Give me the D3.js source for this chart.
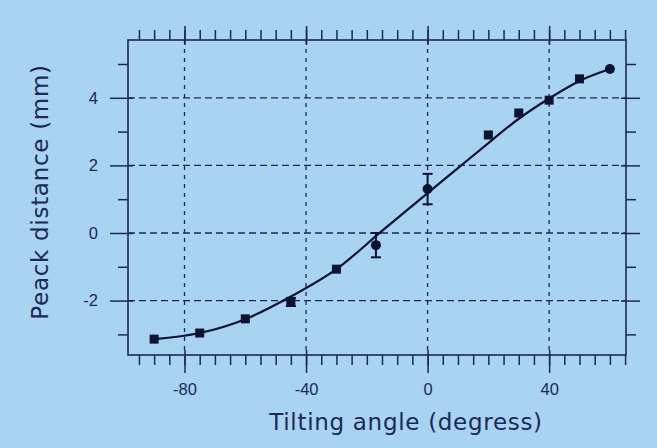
<!DOCTYPE html>
<html>
<head>
<meta charset="utf-8">
<script src="https://cdn.jsdelivr.net/npm/d3@7"></script>
<style>
	html, body { margin: 0; padding: 0; background: #a8d3f1; }
	svg.tilt { display: block; font-family: "DejaVu Sans", "Noto Sans", sans-serif; }
</style>
</head>
<body>
<svg class="tilt"></svg>
<script>
// measured points
var angles  = [-90, -75, -60, -45, -30, -17, 0, 20, 30, 40, 50, 60];
var peaks   = [-3.14, -2.96, -2.54, -2.04, -1.07, -0.36, 1.30, 2.90, 3.55, 3.93, 4.56, 4.85];
var errors  = [0, 0, 0, 0.12, 0, 0.36, 0.45, 0, 0, 0, 0, 0];
var shapes  = ['sq', 'sq', 'sq', 'sq', 'sq', 'dot', 'dot', 'sq', 'sq', 'sq', 'sq', 'dot'];
// fitted curve
var fitAngles = [-90, -75, -60, -45, -30, -15, 0, 10, 20, 30, 40, 50, 60];
var fitPeaks  = [-3.14, -2.96, -2.55, -1.88, -1.07, 0.06, 1.18, 1.92, 2.66, 3.38, 3.98, 4.5, 4.85];
// axes
var xMajor = [-80, -40, 0, 40];
var yMajor = [-2, 0, 2, 4];
var xMinor = d3.range(-95, 66, 5);
var yMinor = [-3, -1, 1, 3, 5];

var chart = {
	initialize: function(){
		var self = this;
		self._render_view();
		return self;
	},
	_render_view: function(){
		var width = 657, height = 448;
		var left = 128, right = 626, top = 40, bottom = 355;
		var ink = '#1d2859';
		var fmt = function(d){ return String(d); }; // plain hyphen like the original

		var svg = d3.select('svg.tilt')
			.attr('width', width)
			.attr('height', height);

		svg.append('rect')
			.attr('width', width).attr('height', height)
			.attr('fill', '#a8d3f1');

		var x = d3.scaleLinear().domain([-98.6, 65.3]).range([left, right]);
		var y = d3.scaleLinear().domain([-3.61, 5.71]).range([bottom, top]);

		// dashed grid
		var grid = svg.append('g').attr('class', 'grid');
		grid.selectAll('.vgrid').data(xMajor).enter()
			.append('line')
			.attr('x1', function(d){ return x(d); })
			.attr('x2', function(d){ return x(d); })
			.attr('y1', top).attr('y2', bottom)
			.attr('stroke', ink).attr('stroke-width', 1.3)
			.attr('stroke-dasharray', '4,5');
		grid.selectAll('.hgrid').data(yMajor).enter()
			.append('line')
			.attr('y1', function(d){ return y(d); })
			.attr('y2', function(d){ return y(d); })
			.attr('x1', left).attr('x2', right)
			.attr('stroke', ink).attr('stroke-width', 1.3)
			.attr('stroke-dasharray', '7,4');

		// axes: ticks outside the frame on all four sides
		var axisStyle = function(g){
			g.select('.domain').remove();
			g.selectAll('line').attr('stroke', ink).attr('stroke-width', 1.5);
			g.selectAll('text').attr('fill', ink).style('font-size', '16.5px');
		};
		svg.append('g')
			.attr('transform', 'translate(0,' + bottom + ')')
			.call(d3.axisBottom(x).tickValues(xMinor).tickSize(10).tickFormat(''))
			.call(axisStyle);
		svg.append('g')
			.attr('transform', 'translate(0,' + (bottom - 5) + ')')
			.call(d3.axisBottom(x).tickValues(xMajor).tickSize(23).tickPadding(10).tickFormat(fmt))
			.call(axisStyle);
		svg.append('g')
			.attr('transform', 'translate(0,' + top + ')')
			.call(d3.axisTop(x).tickValues(xMinor).tickSize(10).tickFormat(''))
			.call(axisStyle);
		svg.append('g')
			.attr('transform', 'translate(0,' + (top + 5) + ')')
			.call(d3.axisTop(x).tickValues(xMajor).tickSize(19).tickFormat(''))
			.call(axisStyle);
		svg.append('g')
			.attr('transform', 'translate(' + left + ',0)')
			.call(d3.axisLeft(y).tickValues(yMinor).tickSize(10).tickFormat(''))
			.call(axisStyle);
		svg.append('g')
			.attr('transform', 'translate(' + (left + 5) + ',0)')
			.call(d3.axisLeft(y).tickValues(yMajor).tickSize(23).tickPadding(12).tickFormat(fmt))
			.call(axisStyle);
		svg.append('g')
			.attr('transform', 'translate(' + right + ',0)')
			.call(d3.axisRight(y).tickValues(yMinor).tickSize(10).tickFormat(''))
			.call(axisStyle);
		svg.append('g')
			.attr('transform', 'translate(' + (right - 5) + ',0)')
			.call(d3.axisRight(y).tickValues(yMajor).tickSize(19).tickFormat(''))
			.call(axisStyle);

		// frame
		svg.append('rect')
			.attr('x', left).attr('y', top)
			.attr('width', right - left).attr('height', bottom - top)
			.attr('fill', 'none').attr('stroke', ink).attr('stroke-width', 1.6);

		// fitted curve
		var line = d3.line()
			.x(function(d){ return x(d[0]); })
			.y(function(d){ return y(d[1]); })
			.curve(d3.curveMonotoneX);
		svg.append('path')
			.datum(d3.zip(fitAngles, fitPeaks))
			.attr('d', line)
			.attr('fill', 'none')
			.attr('stroke', '#0d1330')
			.attr('stroke-width', 2.2);

		var points = angles.map(function(a, i){
			return { a: a, p: peaks[i], e: errors[i], s: shapes[i] };
		});

		// error bars
		var bars = svg.selectAll('.err')
			.data(points.filter(function(d){ return d.e > 0; }))
			.enter().append('g').attr('class', 'err')
			.attr('stroke', '#0d1330').attr('stroke-width', 2);
		bars.append('line')
			.attr('x1', function(d){ return x(d.a); })
			.attr('x2', function(d){ return x(d.a); })
			.attr('y1', function(d){ return y(d.p + d.e); })
			.attr('y2', function(d){ return y(d.p - d.e); });
		[1, -1].forEach(function(sign){
			bars.append('line')
				.attr('x1', function(d){ return x(d.a) - 5; })
				.attr('x2', function(d){ return x(d.a) + 5; })
				.attr('y1', function(d){ return y(d.p + sign * d.e); })
				.attr('y2', function(d){ return y(d.p + sign * d.e); });
		});

		// markers
		svg.selectAll('.sq')
			.data(points.filter(function(d){ return d.s == 'sq'; }))
			.enter().append('rect')
			.attr('class', 'sq')
			.attr('x', function(d){ return x(d.a) - 4.5; })
			.attr('y', function(d){ return y(d.p) - 4.5; })
			.attr('width', 9).attr('height', 9)
			.attr('fill', '#0d1330');
		svg.selectAll('.dot')
			.data(points.filter(function(d){ return d.s == 'dot'; }))
			.enter().append('circle')
			.attr('class', 'dot')
			.attr('cx', function(d){ return x(d.a); })
			.attr('cy', function(d){ return y(d.p); })
			.attr('r', 5)
			.attr('fill', '#0d1330');

		// axis titles
		svg.append('text')
			.attr('x', 406).attr('y', 430)
			.attr('text-anchor', 'middle')
			.attr('fill', ink)
			.style('font-size', '23px')
			.style('letter-spacing', '0.7px')
			.text('Tilting angle (degress)');
		svg.append('text')
			.attr('transform', 'translate(48,192) rotate(-90)')
			.attr('text-anchor', 'middle')
			.attr('fill', ink)
			.style('font-size', '23px')
			.style('letter-spacing', '0.7px')
			.text('Peack distance (mm)');
	}
};
chart.initialize();
</script>
</body>
</html>
